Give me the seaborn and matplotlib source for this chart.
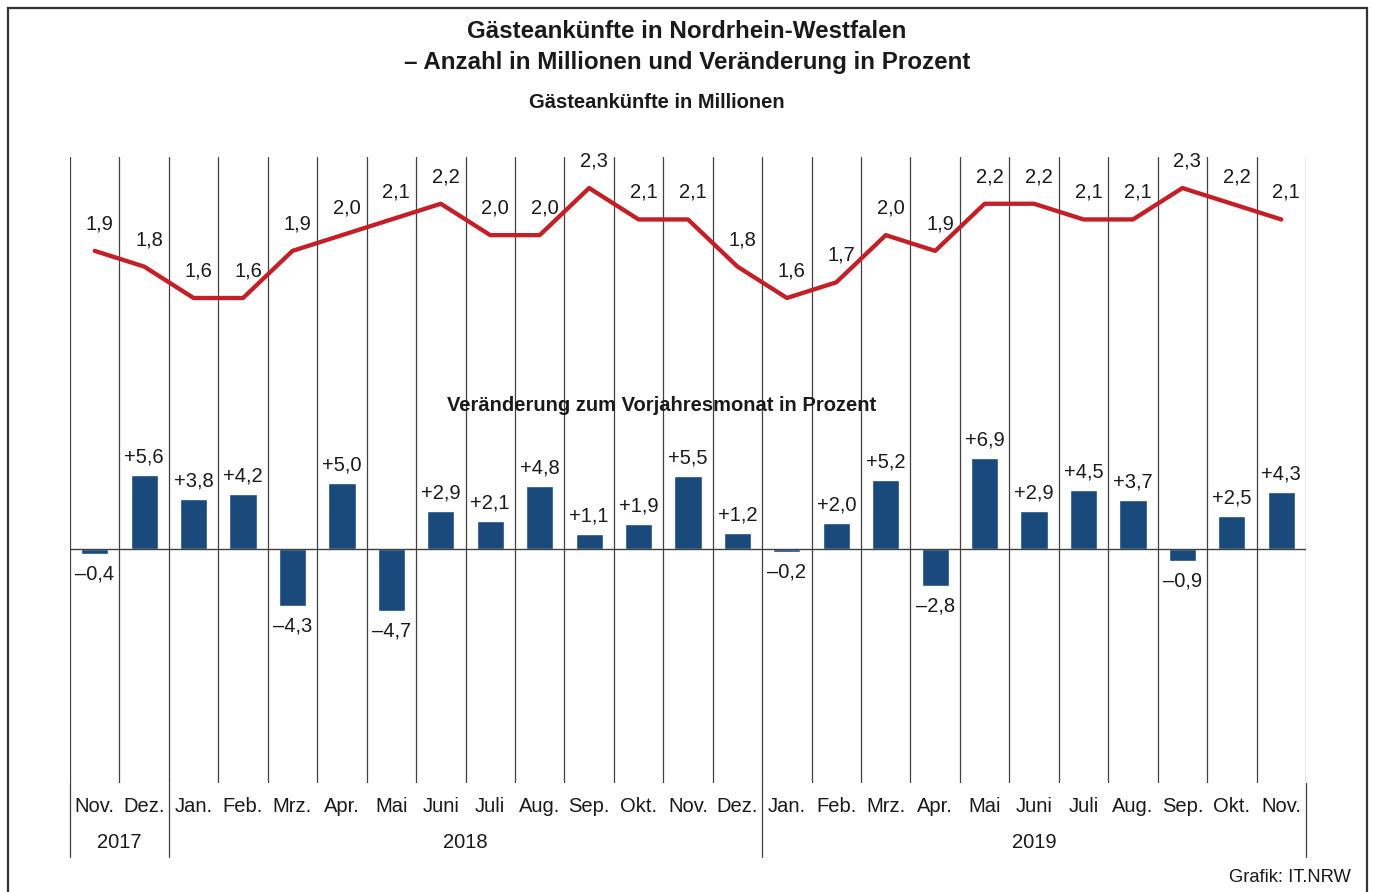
import numpy as np
import pandas as pd
import matplotlib.pyplot as plt
from matplotlib.patches import Rectangle
from matplotlib.lines import Line2D
import seaborn as sns

# Daten: Nov. 2017 bis Nov. 2019
months = ["Nov.", "Dez.", "Jan.", "Feb.", "Mrz.", "Apr.", "Mai", "Juni", "Juli", "Aug.",
          "Sep.", "Okt.", "Nov.", "Dez.", "Jan.", "Feb.", "Mrz.", "Apr.", "Mai", "Juni",
          "Juli", "Aug.", "Sep.", "Okt.", "Nov."]
years = ["2017", "2018", "2019"]
year_span = [(0, 2), (2, 14), (14, 25)]   # Spaltenbereiche je Jahr

arrivals = [1.9, 1.8, 1.6, 1.6, 1.9, 2.0, 2.1, 2.2, 2.0, 2.0, 2.3, 2.1, 2.1,
            1.8, 1.6, 1.7, 2.0, 1.9, 2.2, 2.2, 2.1, 2.1, 2.3, 2.2, 2.1]
change = [-0.4, 5.6, 3.8, 4.2, -4.3, 5.0, -4.7, 2.9, 2.1, 4.8, 1.1, 1.9, 5.5,
          1.2, -0.2, 2.0, 5.2, -2.8, 6.9, 2.9, 4.5, 3.7, -0.9, 2.5, 4.3]

df = pd.DataFrame({"pos": np.arange(len(months)), "month": months,
                   "arrivals": arrivals, "change": change})

W, H = 1373, 892
BLUE = "#1a4a7c"
RED = "#c41f26"
GRID = "#404040"
TXT = "#1a1a1a"

sns.set_theme(style="white")
plt.rcParams["font.family"] = ["Liberation Sans", "DejaVu Sans"]

fig = plt.figure(figsize=(W / 100, H / 100), dpi=100)

def fx(px):
    return px / W

def fy(py):
    return 1 - py / H

# Plotbereich: x 70..1306 px, y 157..783 px
ax = fig.add_axes([fx(70), fy(783), fx(1306) - fx(70), fy(157) - fy(783)])
ax2 = ax.twinx()

# Balken: Veränderung in Prozent
sns.barplot(data=df, x="pos", y="change", color=BLUE, saturation=1, width=0.55, ax=ax)
ax.axhline(0, color=GRID, lw=1, zorder=1)
ax.set_ylim(-17.73, 29.70)

# Linie: Gästeankünfte in Millionen
sns.lineplot(data=df, x="pos", y="arrivals", color=RED, lw=3.1, ax=ax2)
ax2.set_ylim(-1.487, 2.4975)
ax.set_xlim(-0.5, len(months) - 0.5)

for a in (ax, ax2):
    a.set_xticks([])
    a.set_yticks([])
    a.set_xlabel("")
    a.set_ylabel("")
    for s in a.spines.values():
        s.set_visible(False)

# Spaltentrenner
for i in range(len(months) + 1):
    ax.axvline(i - 0.5, color=GRID, lw=0.9, zorder=0)

# Jahrestrenner nach unten verlängert
year_edges = [year_span[0][0]] + [e for _, e in year_span]
for e in year_edges:
    xf = fx(70) + (fx(1306) - fx(70)) * e / len(months)
    fig.add_artist(Line2D([xf, xf], [fy(783), fy(857)], color=GRID, lw=0.9))

fs_num = 14.5
for i, v in enumerate(change):
    lab = f"{v:+.1f}".replace(".", ",").replace("-", "–")
    off = 13 if v >= 0 else -14.5
    ax.annotate(lab, (i, v), xytext=(0, off), textcoords="offset points",
                ha="center", va="center", fontsize=fs_num, color=TXT)

for i, v in enumerate(arrivals):
    lab = f"{v:.1f}".replace(".", ",")
    ax2.annotate(lab, (i, v), xytext=(3.6, 19.5), textcoords="offset points",
                 ha="center", va="center", fontsize=fs_num, color=TXT)

# Monats- und Jahresbeschriftung
col_w = (1306 - 70) / len(months)
for i, m in enumerate(months):
    fig.text(fx(70 + (i + 0.5) * col_w), fy(807), m, ha="center", va="center",
             fontsize=14.5, color=TXT)
for y, (a, b) in zip(years, year_span):
    fig.text(fx(70 + (a + b) / 2 * col_w), fy(843), y, ha="center", va="center",
             fontsize=14.5, color=TXT)

# Titel
fig.text(fx(687), fy(31), "Gästeankünfte in Nordrhein-Westfalen", ha="center", va="center",
         fontsize=17.4, fontweight="bold", color=TXT)
fig.text(fx(687), fy(63), "– Anzahl in Millionen und Veränderung in Prozent", ha="center",
         va="center", fontsize=17.4, fontweight="bold", color=TXT)
fig.text(fx(657), fy(102), "Gästeankünfte in Millionen", ha="center", va="center",
         fontsize=14.5, fontweight="bold", color=TXT)
fig.text(fx(662), fy(405), "Veränderung zum Vorjahresmonat in Prozent", ha="center",
         va="center", fontsize=14.5, fontweight="bold", color=TXT)
fig.text(fx(1351), fy(877), "Grafik: IT.NRW", ha="right", va="center",
         fontsize=13.2, color=TXT)

# Rahmen
fig.add_artist(Rectangle((fx(7.5), fy(900)), fx(1366.5) - fx(7.5), fy(7.5) - fy(900),
                         fill=False, edgecolor="#333333", lw=1.6))

fig.savefig("out.png", dpi=100)
